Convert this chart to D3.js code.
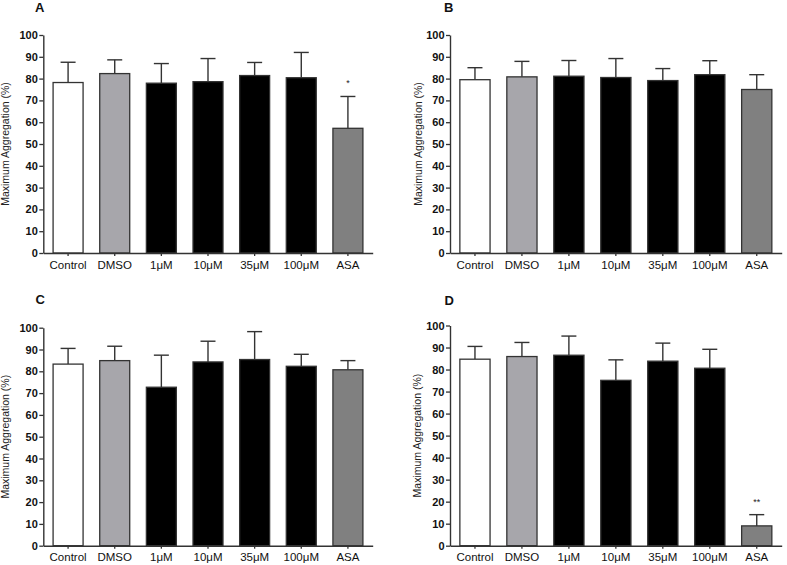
<!DOCTYPE html>
<html>
<head>
<meta charset="utf-8">
<script src="https://cdn.jsdelivr.net/npm/d3@7"></script>
<style>
  body { margin: 0; background: #fff; }
  svg { display: block; font-family: "Liberation Sans", Arial, sans-serif; }
</style>
</head>
<body>
<svg id="chart" width="787" height="565"></svg>
<script>
// categorias y valores (media y error)
var categories = ["Control", "DMSO", "1\u03bcM", "10\u03bcM", "35\u03bcM", "100\u03bcM", "ASA"];
var yTicks = [0, 10, 20, 30, 40, 50, 60, 70, 80, 90, 100];

var meanA = [78.2, 82.3, 77.9, 78.6, 81.4, 80.4, 57.2];
var semA  = [9.3, 6.3, 9.0, 10.6, 6.0, 11.6, 14.6];
var starsA = ["", "", "", "", "", "", "*"];

var meanB = [79.5, 80.8, 81.1, 80.5, 79.1, 81.8, 75.0];
var semB  = [5.5, 7.1, 7.2, 8.7, 5.5, 6.4, 6.8];
var starsB = ["", "", "", "", "", "", ""];

var meanC = [83.3, 84.9, 72.7, 84.3, 85.4, 82.3, 80.7];
var semC  = [7.2, 6.6, 14.7, 9.5, 12.8, 5.5, 4.2];
var starsC = ["", "", "", "", "", "", ""];

var meanD = [84.7, 85.9, 86.5, 75.1, 83.8, 80.6, 9.0];
var semD  = [5.8, 6.4, 8.7, 9.3, 8.2, 8.6, 5.1];
var starsD = ["", "", "", "", "", "", "**"];

var barColors = ["#ffffff", "#a7a6ab", "#000000", "#000000", "#000000", "#000000", "#808080"];

var svg = d3.select("#chart");

var panels = [
  { letter: "A", mean: meanA, sem: semA, stars: starsA, left: 43.3, right: 372.7, top: 35, bottom: 253, labelX: 5, letterX: 35, letterY: 12 },
  { letter: "B", mean: meanB, sem: semB, stars: starsB, left: 450, right: 781.7, top: 35, bottom: 253, labelX: 417.5, letterX: 444, letterY: 12 },
  { letter: "C", mean: meanC, sem: semC, stars: starsC, left: 43.3, right: 372.7, top: 327.7, bottom: 545.7, labelX: 5, letterX: 35.5, letterY: 304 },
  { letter: "D", mean: meanD, sem: semD, stars: starsD, left: 450, right: 781.7, top: 325.5, bottom: 545.7, labelX: 417, letterX: 444.5, letterY: 304.5 }
];

panels.forEach(function (p) {
  var rows = categories.map(function (c, i) {
    return { cat: c, mean: p.mean[i], sem: p.sem[i], star: p.stars[i], color: barColors[i] };
  });

  var x = d3.scaleBand()
    .domain(categories)
    .range([p.left, p.right])
    .paddingInner(0.357)
    .paddingOuter(0.21);

  var y = d3.scaleLinear().domain([0, 100]).range([p.bottom, p.top]);

  var g = svg.append("g");

  // letra del panel
  g.append("text")
    .attr("x", p.letterX)
    .attr("y", p.letterY)
    .attr("font-size", 13)
    .attr("font-weight", "bold")
    .attr("fill", "#111")
    .text(p.letter);

  // barras de error (solo hacia arriba)
  var err = g.append("g").selectAll("g").data(rows).enter().append("g");
  var cx = function (d) { return x(d.cat) + x.bandwidth() / 2; };
  err.append("line")
    .attr("x1", cx).attr("x2", cx)
    .attr("y1", function (d) { return y(d.mean); })
    .attr("y2", function (d) { return y(d.mean + d.sem); })
    .attr("stroke", "#333").attr("stroke-width", 1.4);
  err.append("line")
    .attr("x1", function (d) { return cx(d) - 7.5; })
    .attr("x2", function (d) { return cx(d) + 7.5; })
    .attr("y1", function (d) { return y(d.mean + d.sem); })
    .attr("y2", function (d) { return y(d.mean + d.sem); })
    .attr("stroke", "#333").attr("stroke-width", 1.4);

  // barras
  g.append("g").selectAll("rect").data(rows).enter().append("rect")
    .attr("x", function (d) { return x(d.cat); })
    .attr("y", function (d) { return y(d.mean); })
    .attr("width", x.bandwidth())
    .attr("height", function (d) { return y(0) - y(d.mean); })
    .attr("fill", function (d) { return d.color; })
    .attr("stroke", "#333")
    .attr("stroke-width", 1.3);

  // asteriscos
  g.append("g").selectAll("text").data(rows.filter(function (d) { return d.star; })).enter().append("text")
    .attr("x", cx)
    .attr("y", function (d) { return y(d.mean + d.sem) - 10; })
    .attr("text-anchor", "middle")
    .attr("font-size", 9)
    .attr("fill", "#222")
    .text(function (d) { return d.star; });

  // eje y
  var yAxis = g.append("g")
    .attr("transform", "translate(" + p.left + ",0)")
    .call(d3.axisLeft(y).tickValues(yTicks).tickSize(4).tickPadding(1.5).tickSizeOuter(0));
  yAxis.selectAll("text")
    .attr("font-size", 11)
    .attr("font-weight", "bold")
    .attr("fill", "#111")
    .attr("font-family", "Liberation Sans, Arial, sans-serif");

  // eje x
  var xAxis = g.append("g")
    .attr("transform", "translate(0," + p.bottom + ")")
    .call(d3.axisBottom(x).tickSize(3).tickPadding(4.5).tickSizeOuter(0));
  xAxis.selectAll("text")
    .attr("font-size", 11.5)
    .attr("fill", "#111")
    .attr("font-family", "Liberation Sans, Arial, sans-serif");

  [yAxis, xAxis].forEach(function (ax) {
    ax.select(".domain").attr("stroke", "#333").attr("stroke-width", 1.4);
    ax.selectAll(".tick line").attr("stroke", "#333").attr("stroke-width", 1.3);
  });

  // titulo eje y
  g.append("text")
    .attr("transform", "translate(" + p.labelX + "," + ((p.top + p.bottom) / 2) + ") rotate(-90)")
    .attr("text-anchor", "middle")
    .attr("dominant-baseline", "central")
    .attr("font-size", 10.5)
    .attr("fill", "#222")
    .text("Maximum Aggregation (%)");
});
</script>
</body>
</html>
